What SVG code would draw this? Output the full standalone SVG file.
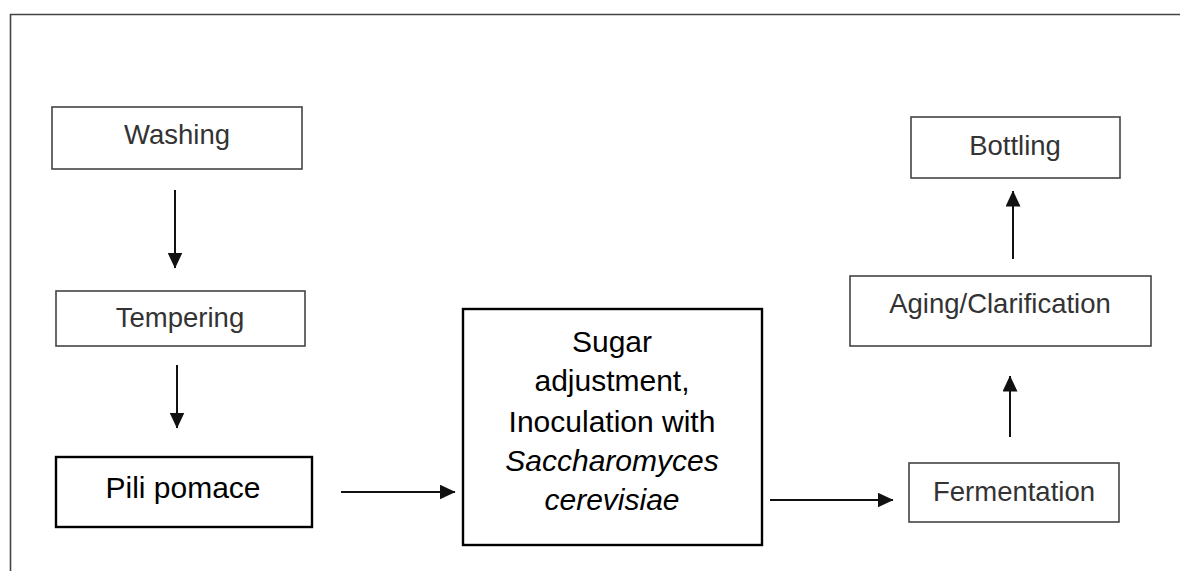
<svg xmlns="http://www.w3.org/2000/svg" width="1180" height="571" viewBox="0 0 1180 571">
<style>
.t{font-family:"Liberation Sans",Arial,sans-serif;text-anchor:middle}
.g{font-size:27.5px;fill:#333}
.b{font-size:30px;fill:#000}
.gb{fill:#fff;stroke:#444;stroke-width:1.6}
.bb{fill:#fff;stroke:#000;stroke-width:2.4}
.c{stroke:#111;stroke-width:2;fill:none;marker-end:url(#ah)}
</style>
<defs>
<marker id="ah" viewBox="0 0 16 15" refX="15.5" refY="7.5" markerWidth="16" markerHeight="15" markerUnits="userSpaceOnUse" orient="auto">
<path d="M0,0 L16,7.5 L0,15 Z" fill="#111"/>
</marker>
</defs>
<rect width="1180" height="571" fill="#fff"/>
<path d="M10.5,571 V14.5 H1180" fill="none" stroke="#444" stroke-width="1.6"/>
<g id="washing"><rect class="gb" x="52" y="107" width="250" height="62"/><text class="t g" x="177" y="144">Washing</text></g>
<g id="tempering"><rect class="gb" x="56" y="291" width="249" height="55"/><text class="t g" x="180" y="327">Tempering</text></g>
<g id="pili"><rect class="bb" x="56" y="457" width="256" height="70"/><text class="t b" x="183" y="498">Pili pomace</text></g>
<g id="sugar"><rect class="bb" x="463" y="309" width="299" height="236"/>
<text class="t b" x="612" y="352">Sugar</text>
<text class="t b" x="612" y="391">adjustment,</text>
<text class="t b" x="612" y="432">Inoculation with</text>
<text class="t b" x="612" y="471" font-style="italic">Saccharomyces</text>
<text class="t b" x="612" y="510" font-style="italic">cerevisiae</text></g>
<g id="fermentation"><rect class="gb" x="909" y="463" width="210" height="59"/><text class="t g" x="1014" y="501">Fermentation</text></g>
<g id="aging"><rect class="gb" x="850" y="276" width="301" height="70"/><text class="t g" x="1000" y="313">Aging/Clarification</text></g>
<g id="bottling"><rect class="gb" x="911" y="117" width="209" height="61"/><text class="t g" x="1015" y="155">Bottling</text></g>
<g id="connectors">
<line class="c" x1="175" y1="190" x2="175" y2="268"/>
<line class="c" x1="177" y1="365" x2="177" y2="428"/>
<line class="c" x1="341" y1="492" x2="455" y2="492"/>
<line class="c" x1="770" y1="500" x2="893" y2="500"/>
<line class="c" x1="1010" y1="437" x2="1010" y2="376"/>
<line class="c" x1="1013" y1="259" x2="1013" y2="191"/>
</g>
</svg>
